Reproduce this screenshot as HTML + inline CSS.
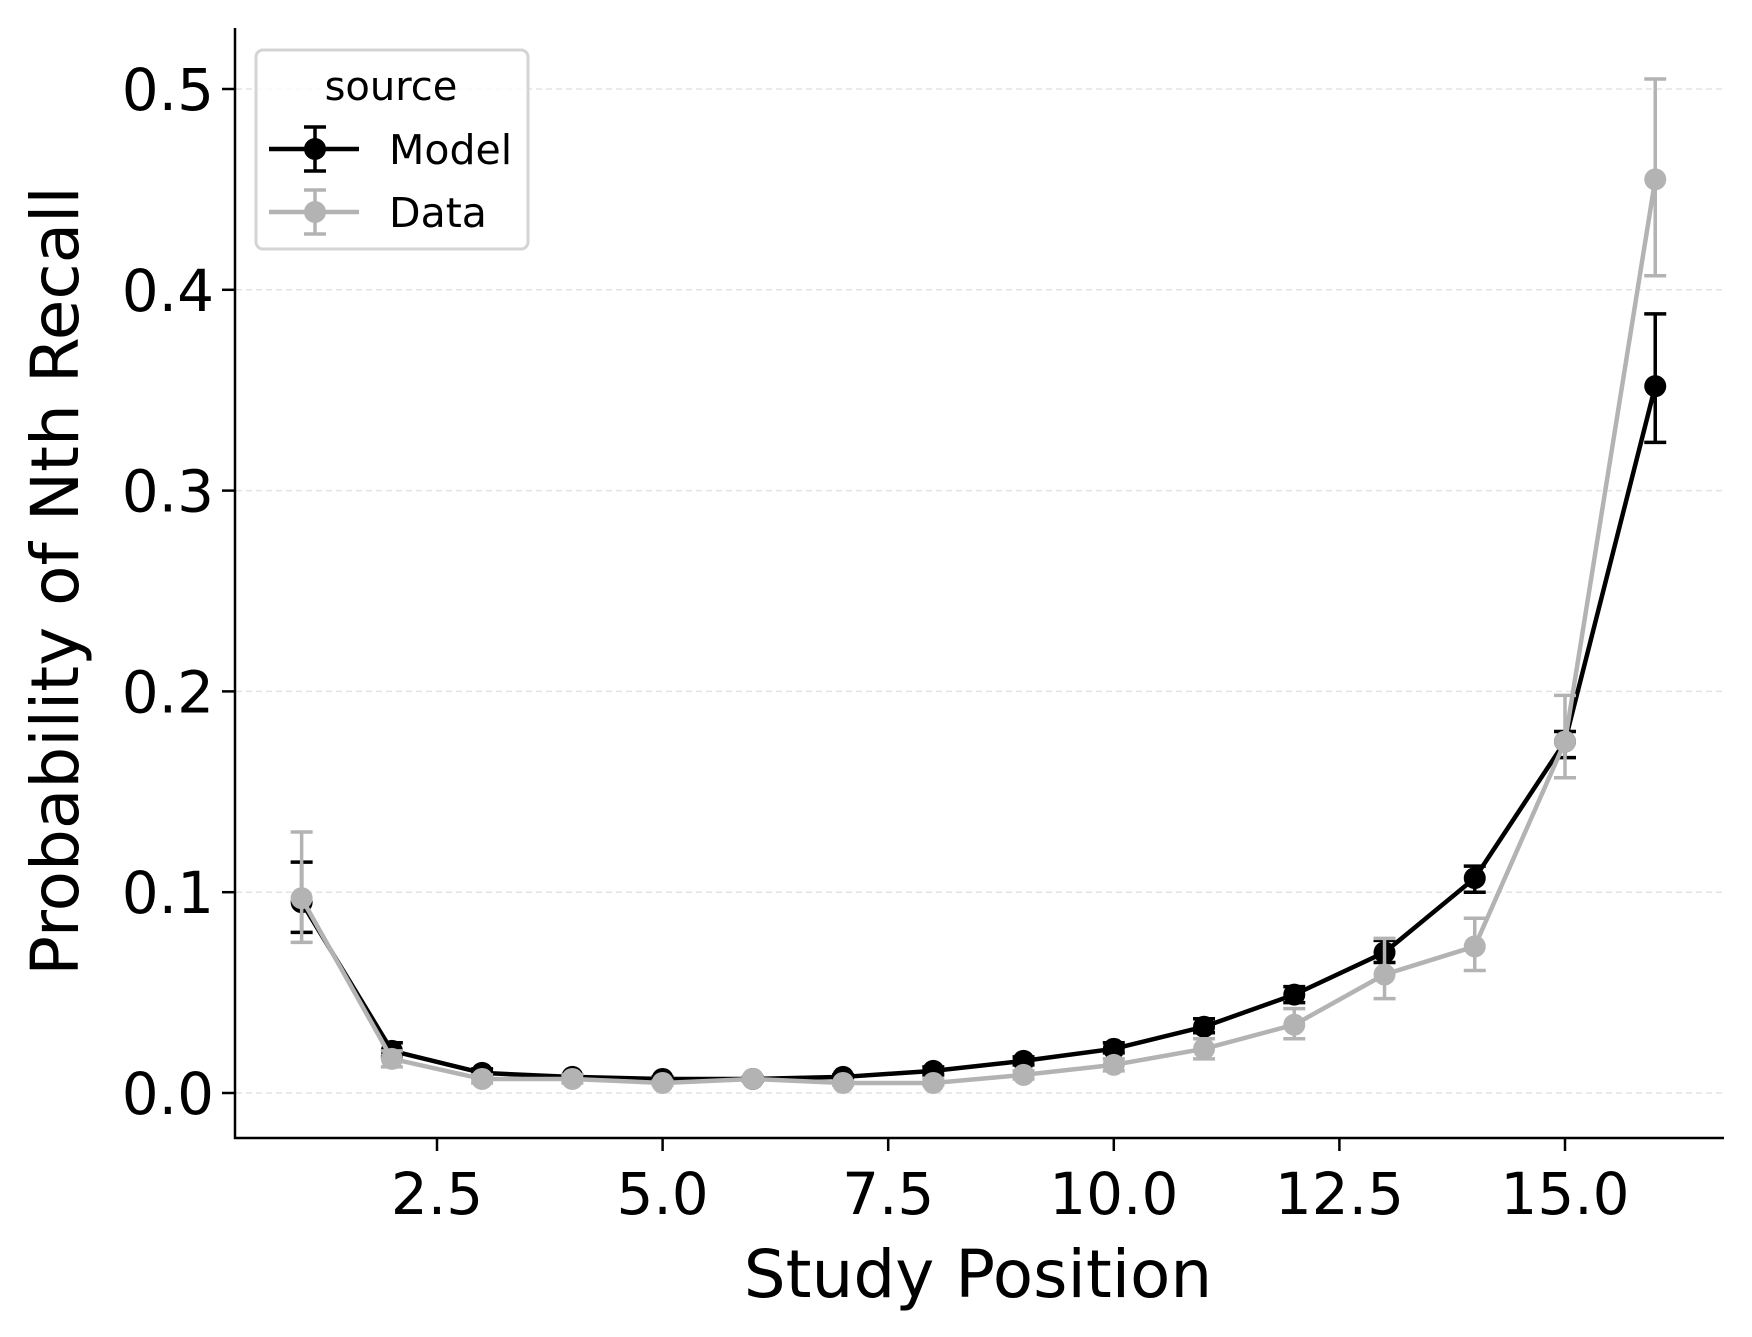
<!DOCTYPE html>
<html><head><meta charset="utf-8"><style>
html,body{margin:0;padding:0;background:#fff}
svg{display:block;font-family:"DejaVu Sans","Liberation Sans",sans-serif}
</style></head><body>
<svg id="s" width="1752" height="1337" viewBox="0 0 1752 1337" xmlns="http://www.w3.org/2000/svg">
<rect width="1752" height="1337" fill="#fff"/>
<g id="grid"></g>
<g id="series"></g>
<line x1="235" y1="28" x2="235" y2="1139" stroke="#000" stroke-width="2.5"/>
<line x1="234" y1="1138" x2="1724" y2="1138" stroke="#000" stroke-width="2.5"/>
<g id="ticks" font-size="58" fill="#000"></g>
<text x="978" y="1297" font-size="66" text-anchor="middle">Study Position</text>
<text transform="translate(78,581) rotate(-90)" font-size="66" text-anchor="middle">Probability of Nth Recall</text>
<g>
<rect x="256" y="50" width="272" height="199" rx="7" fill="#fff" fill-opacity="0.8" stroke="#d4d4d4" stroke-width="3"/>
<text x="391" y="100" font-size="40" text-anchor="middle">source</text>
<line x1="269" y1="149" x2="359" y2="149" stroke="#000" stroke-width="4.5"/>
<line x1="315" y1="127" x2="315" y2="171" stroke="#000" stroke-width="3.5"/>
<line x1="304" y1="127" x2="326" y2="127" stroke="#000" stroke-width="3.5"/>
<line x1="304" y1="171" x2="326" y2="171" stroke="#000" stroke-width="3.5"/>
<circle cx="315" cy="149" r="11" fill="#000"/>
<text x="389" y="164" font-size="41">Model</text>
<line x1="269" y1="212" x2="359" y2="212" stroke="#b3b3b3" stroke-width="4.5"/>
<line x1="315" y1="190" x2="315" y2="234" stroke="#b3b3b3" stroke-width="3.5"/>
<line x1="304" y1="190" x2="326" y2="190" stroke="#b3b3b3" stroke-width="3.5"/>
<line x1="304" y1="234" x2="326" y2="234" stroke="#b3b3b3" stroke-width="3.5"/>
<circle cx="315" cy="212" r="11" fill="#b3b3b3"/>
<text x="389" y="227" font-size="41">Data</text>
</g>
</svg>
<script>
var NS="http://www.w3.org/2000/svg";
function X(v){return 1565+(v-15)*90.24;}
function Y(v){return 1093-v*2008;}
function el(p,t,a,txt){var e=document.createElementNS(NS,t);for(var k in a)e.setAttribute(k,a[k]);if(txt!=null)e.textContent=txt;p.appendChild(e);return e;}
var g=document.getElementById('grid'),tk=document.getElementById('ticks'),se=document.getElementById('series');
[0,0.1,0.2,0.3,0.4,0.5].forEach(function(v){var y=Y(v);
 el(g,'line',{x1:236,y1:y,x2:1724,y2:y,stroke:'#e3e3e3','stroke-width':1.5,'stroke-dasharray':'6,4'});
 el(tk,'line',{x1:222,y1:y,x2:235,y2:y,stroke:'#000','stroke-width':2.5});
 el(tk,'text',{x:214,y:y+21,'text-anchor':'end'},v.toFixed(1));});
[2.5,5,7.5,10,12.5,15].forEach(function(v){var x=X(v);
 el(tk,'line',{x1:x,y1:1138,x2:x,y2:1151,stroke:'#000','stroke-width':2.5});
 el(tk,'text',{x:x,y:1214,'text-anchor':'middle'},v.toFixed(1));});
var model=[[.095,.080,.115],[.021,.018,.025],[.010,.008,.012],[.008,.007,.009],[.007,.006,.008],[.007,.006,.008],[.008,.007,.009],[.011,.009,.013],[.016,.014,.018],[.022,.020,.025],[.033,.030,.037],[.049,.045,.053],[.070,.065,.076],[.107,.100,.113],[.175,.167,.180],[.352,.324,.388]];
var data=[[.097,.075,.130],[.017,.013,.021],[.007,.005,.009],[.007,.005,.009],[.005,.004,.006],[.007,.006,.008],[.005,.004,.006],[.005,.004,.007],[.009,.007,.011],[.014,.011,.017],[.022,.017,.027],[.034,.027,.042],[.059,.047,.077],[.073,.061,.087],[.175,.157,.198],[.455,.407,.505]];
function draw(d,c){var pts=d.map(function(p,i){return X(i+1)+','+Y(p[0]);}).join(' ');
 el(se,'polyline',{points:pts,fill:'none',stroke:c,'stroke-width':4.5,'stroke-linejoin':'round'});
 d.forEach(function(p,i){var x=X(i+1);
  el(se,'line',{x1:x,y1:Y(p[1]),x2:x,y2:Y(p[2]),stroke:c,'stroke-width':3.5});
  el(se,'line',{x1:x-11,y1:Y(p[1]),x2:x+11,y2:Y(p[1]),stroke:c,'stroke-width':3.5});
  el(se,'line',{x1:x-11,y1:Y(p[2]),x2:x+11,y2:Y(p[2]),stroke:c,'stroke-width':3.5});
  el(se,'circle',{cx:x,cy:Y(p[0]),r:11,fill:c});});}
draw(model,'#000');draw(data,'#b3b3b3');
</script>
</body></html>
